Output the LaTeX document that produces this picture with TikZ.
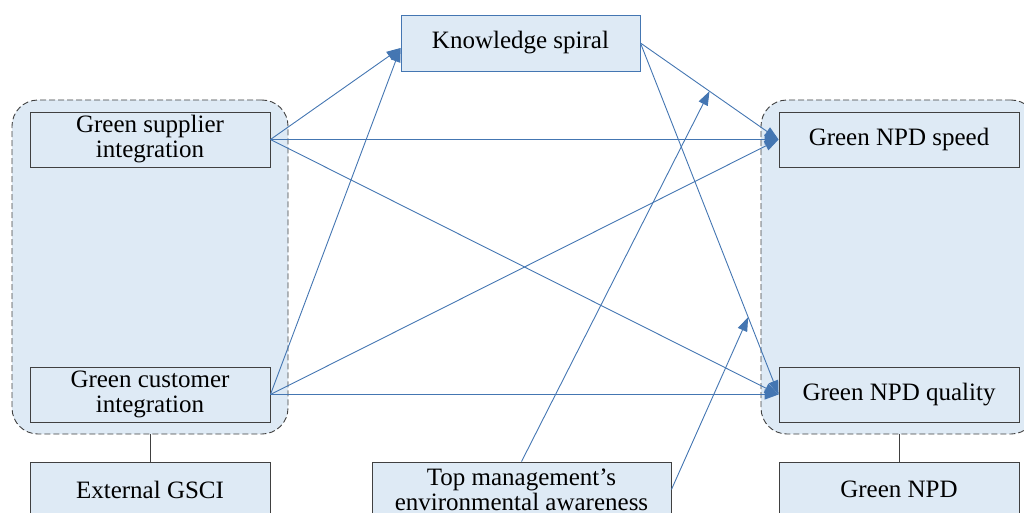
\documentclass[tikz,border=0pt]{standalone}
\usepackage{fontspec}
\setmainfont{Liberation Serif}
\usepackage{xcolor}
\usetikzlibrary{arrows.meta}

\definecolor{boxfill}{RGB}{222,234,245}
\definecolor{boxline}{RGB}{64,64,64}
\definecolor{arrowblue}{RGB}{68,118,178}

\tikzset{
  box/.style={draw=boxline, fill=boxfill, line width=0.9pt, align=center,
              inner sep=0pt, minimum width=240pt, minimum height=55pt,
              font=\fontsize{25}{25}\selectfont},
  group/.style={draw=boxline, fill=boxfill, dash pattern=on 6pt off 3pt,
                line width=0.9pt, rounded corners=26pt,
                minimum width=276pt, minimum height=334pt},
  arr/.style={draw=arrowblue, line width=0.9pt,
              -{Triangle[length=14pt,width=10pt]}},
  link/.style={draw=boxline, line width=0.9pt}
}

\begin{document}
\begin{tikzpicture}[x=1pt, y=-1pt]

    \useasboundingbox (0,0) rectangle (1024,513);

    % Groups
    \node[group] (extgroup) at (150, 267) {};
    \node[group] (npdgroup) at (899, 267) {};

    % External GSCI side
    \node[box] (supplier) at (150, 139.5) {Green supplier\\integration};
    \node[box] (customer) at (150, 394.5) {Green customer\\integration};
    \node[box] (gsci) at (150, 489.5) {External GSCI};

    % Green NPD side
    \node[box] (speed) at (899, 139.5) {Green NPD speed};
    \node[box] (quality) at (899, 394.5) {Green NPD quality};
    \node[box] (npd) at (899, 489.5) {Green NPD};

    % Mediator and moderator
    \node[box, draw=arrowblue, minimum width=239pt, minimum height=56pt]
        (spiral) at (520.5, 43) {Knowledge spiral};
    \node[box, minimum width=299pt] (awareness) at (521.5, 489.5)
        {Top management’s\\environmental awareness};

    % --------------------
    % Connectors
    % --------------------

    \draw[link] (extgroup.south) -- (gsci.north);
    \draw[link] (npdgroup.south) -- (npd.north);

    \coordinate (spiralin) at ([yshift=-5pt]spiral.west);

    \draw[arr] (supplier.east) -- (spiralin);
    \draw[arr] (customer.east) -- (spiralin);

    \draw[arr] (supplier.east) -- (speed.west);
    \draw[arr] (supplier.east) -- (quality.west);
    \draw[arr] (customer.east) -- (speed.west);
    \draw[arr] (customer.east) -- (quality.west);

    \draw[arr] (spiral.east) -- coordinate[pos=0.5] (onspeed) (speed.west);
    \draw[arr] (spiral.east) -- coordinate[pos=0.78] (onquality) (quality.west);

    \draw[arr] (awareness.north) -- (onspeed);
    \draw[arr] (awareness.east) -- (onquality);

\end{tikzpicture}
\end{document}
